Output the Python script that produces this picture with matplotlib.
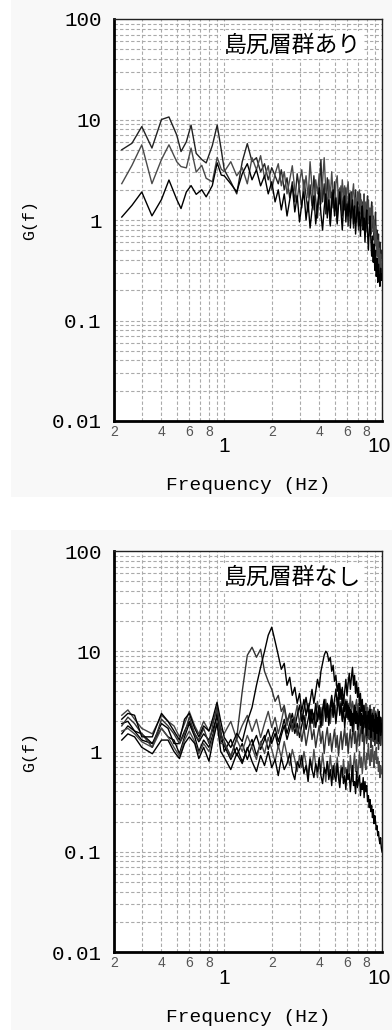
import numpy as np
import matplotlib
matplotlib.use("Agg")
import matplotlib.pyplot as plt
from matplotlib.patches import Rectangle
from matplotlib.transforms import blended_transform_factory, offset_copy
from matplotlib.ticker import FixedLocator, FixedFormatter, NullFormatter, LogLocator

# ---------------------------------------------------------------- data
# Frequency axis (Hz) and G(f) axis
x_major = [1, 10]
x_major_labels = ["1", "10"]
x_minor = [0.2, 0.3, 0.4, 0.5, 0.6, 0.7, 0.8, 0.9, 2, 3, 4, 5, 6, 7, 8, 9]
x_minor_labels = ["2", "", "4", "", "6", "", "8", "", "2", "", "4", "", "6", "", "8", ""]
y_ticks = [0.01, 0.1, 1, 10, 100]
y_tick_labels = ["0.01", "0.1", "1", "10", "100"]

titles = ["島尻層群あり", "島尻層群なし"]

# low-frequency part (coarse spectral estimate), G(f)
f_low_top = [0.224, 0.26, 0.30, 0.348, 0.40, 0.446, 0.50, 0.532, 0.575, 0.616,
             0.664, 0.72, 0.768, 0.84, 0.902, 0.957]
top_low_a = [5.0, 5.8, 8.5, 5.2, 10.0, 10.6, 7.0, 4.8, 6.0, 8.8, 4.6, 4.0, 3.7, 5.5, 8.8, 5.0]
top_low_b = [2.3, 3.5, 5.6, 2.3, 4.0, 5.6, 3.8, 3.4, 3.3, 5.2, 3.0, 3.5, 2.6, 2.4, 4.2, 3.2]
top_low_c = [1.07, 1.4, 1.9, 1.1, 1.6, 2.5, 1.6, 1.3, 1.9, 2.2, 1.8, 2.0, 1.7, 2.2, 3.7, 2.8]

# 1-10 Hz part, 0.1 Hz step, values are 100*log10 G(f)
top_high_a = [50, 38, 26, 58, 76, 58, 62, 48, 56, 40, 52, 44, 36, 50, 30, 42, 22, 38, 18, 46,
              30, 12, 40, 24, 8, 35, 14, 44, 20, 2, 30, 60, 18, 36, 6, 42, 24, -4, 28, 12,
              38, 20, -2, 30, 16, 34, 4, 26, 10, 32, 18, -6, 22, 8, 28, 12, -8, 20, 30, 4,
              16, -10, 14, 26, 2, 18, -4, 22, 6, -12, 14, 24, 0, 10, -16, 6, 18, -8, 4, -20,
              -4, 8, -26, -10, -30, -14, -40, -22, -46, -30, -38]
top_high_b = [48, 58, 44, 52, 36, 62, 50, 64, 42, 54, 30, 46, 56, 34, 48, 26, 40, 54, 30, 20,
              38, 50, 28, 44, 22, 58, 32, 10, 40, 26, 46, 16, 38, 62, 30, 12, 40, 22, 48, 26,
              8, 36, 44, 18, 32, 10, 40, 24, 34, 6, 30, 38, 14, 28, 2, 26, 36, 12, 22, -2,
              28, 16, 30, 6, 20, -6, 14, 26, 0, 18, -8, 10, 20, -4, 12, -14, 2, 14, -12, 0,
              -24, -6, -18, -36, -20, -48, -28, -52, -34, -58, -44]
top_high_c = [44, 36, 28, 46, 56, 40, 50, 34, 44, 26, 38, 18, 30, 10, 26, 4, 20, 34, 8, 24,
              -2, 16, 28, 0, 18, -8, 10, 24, -4, 14, 32, 6, -10, 12, 26, 2, 20, -6, 16, 30,
              4, 22, -4, 14, 28, 8, -10, 12, 24, -2, 16, 4, 26, -8, 10, 20, -4, 14, -14, 6,
              18, -6, 8, -16, 4, 14, -10, 2, -22, -2, 10, -14, -30, -8, 4, -20, -36, -16, -42, -24,
              -50, -30, -56, -38, -62, -44, -58, -66, -48, -60, -54]

f_low_bot = [0.224, 0.245, 0.27, 0.30, 0.35, 0.40, 0.44, 0.48, 0.52, 0.56, 0.60,
             0.65, 0.69, 0.74, 0.80, 0.85, 0.90, 0.95]
bot_low_1 = [1.8, 2.2, 1.9, 1.5, 1.1, 2.1, 1.8, 1.5, 1.2, 1.5, 2.2, 1.5, 1.3, 1.7, 1.2, 1.9, 2.8, 1.5]
bot_low_2 = [2.1, 2.4, 2.3, 1.4, 1.4, 2.4, 2.0, 1.6, 1.3, 2.1, 2.4, 1.7, 1.4, 1.8, 1.6, 2.2, 3.1, 2.0]
bot_low_3 = [1.5, 1.8, 1.6, 1.3, 1.2, 1.7, 1.4, 1.3, 0.95, 1.4, 1.9, 1.4, 1.0, 1.3, 1.1, 1.5, 2.4, 1.3]
bot_low_4 = [1.9, 2.0, 1.6, 1.5, 1.2, 1.9, 1.7, 1.2, 1.2, 1.6, 2.0, 1.5, 1.25, 1.5, 1.3, 1.7, 2.2, 1.6]
bot_low_5 = [1.3, 1.5, 1.4, 1.1, 0.95, 1.3, 1.3, 1.0, 0.85, 1.2, 1.4, 1.2, 0.85, 1.1, 0.8, 1.3, 1.9, 1.0]
bot_low_6 = [2.3, 2.6, 2.1, 1.7, 1.5, 2.3, 2.0, 1.8, 1.4, 1.9, 2.5, 1.8, 1.5, 2.0, 1.6, 2.0, 2.6, 1.7]
bot_low_7 = [1.6, 1.7, 1.5, 1.25, 1.1, 1.7, 1.4, 1.1, 0.9, 1.3, 1.6, 1.25, 0.95, 1.2, 1.0, 1.4, 2.0, 1.2]

bot_high_1 = [10, -6, 14, 60, 96, 104, 94, 102, 80, 70, 62, 50, 56, 40, 46, 30, 38, 22, 34, 16,
              28, 10, 24, 6, 18, 30, 12, 22, 4, 16, 26, 8, 20, -2, 14, 24, 6, 18, 0, 12,
              22, 4, 16, -4, 10, 20, 2, 14, 24, 6, 18, -2, 12, 22, 4, 16, 26, 8, 20, 0,
              14, 24, 6, 18, 28, 10, 22, 2, 16, 26, 8, 20, 30, 12, 24, 4, 18, 28, 10, 22,
              6, 18, 26, 8, 20, 2, 16, 24, 6, 14, 20]
bot_high_2 = [14, 4, 18, 10, 30, 44, 66, 84, 100, 116, 124, 110, 96, 82, 88, 66, 74, 56, 64, 48,
              58, 40, 52, 36, 46, 28, 42, 32, 48, 30, 40, 24, 38, 50, 30, 44, 26, 40, 52, 34,
              46, 28, 42, 54, 36, 48, 30, 44, 24, 38, 50, 32, 44, 26, 40, 20, 36, 46, 28, 40,
              22, 34, 44, 26, 38, 18, 32, 42, 24, 36, 16, 30, 40, 22, 34, 14, 28, 38, 20, 32,
              12, 26, 36, 18, 30, 10, 24, 34, 16, 26, 20]
bot_high_3 = [6, -8, 4, -10, 2, 12, -4, 8, 16, 2, 14, 24, 10, 20, 32, 18, 28, 38, 24, 36,
              46, 30, 42, 54, 40, 50, 62, 48, 60, 72, 64, 80, 88, 96, 100, 98, 90, 94, 80, 86,
              70, 76, 60, 68, 52, 62, 46, 56, 40, 50, 34, 46, 30, 42, 26, 38, 22, 34, 44, 28,
              38, 20, 32, 42, 26, 36, 18, 30, 40, 22, 34, 14, 28, 38, 20, 32, 12, 26, 36, 18,
              30, 10, 24, 34, 16, 28, 8, 22, 32, 14, 24]
bot_high_4 = [0, 12, -4, 8, -8, 6, 16, 2, 12, 22, 8, 18, 4, 16, 26, 12, 22, 32, 18, 28,
              14, 26, 36, 22, 32, 42, 28, 38, 24, 36, 46, 32, 42, 52, 38, 48, 34, 46, 56, 42,
              52, 62, 46, 58, 68, 52, 64, 48, 60, 72, 56, 68, 78, 62, 74, 84, 66, 76, 58, 70,
              54, 64, 46, 58, 40, 52, 34, 46, 28, 40, 22, 36, 16, 30, 42, 24, 36, 18, 30, 12,
              26, 38, 20, 32, 14, 28, 40, 22, 34, 18, 28]
bot_high_5 = [-6, -18, -2, -12, 4, -10, -20, -4, -14, 0, -16, -8, -24, -6, -18, -12, -2, -20, -28, -10,
              -16, -4, -22, -14, -30, -8, -18, -26, -12, -20, -6, -24, -32, -16, -22, -10, -28, -18, -34, -14,
              -24, -30, -12, -26, -36, -20, -16, -32, -24, -38, -18, -28, -22, -40, -26, -14, -34, -30, -42, -20,
              -36, -28, -24, -44, -32, -38, -26, -46, -30, -40, -34, -50, -44, -56, -48, -60, -54, -66, -58, -72,
              -64, -70, -78, -74, -84, -80, -88, -92, -86, -96, -100]
bot_high_6 = [18, 30, 12, 26, 36, 20, 32, 14, 28, 40, 24, 34, 18, 30, 44, 26, 38, 20, 34, 46,
              28, 40, 22, 36, 48, 30, 42, 24, 38, 50, 32, 44, 26, 40, 52, 34, 46, 28, 42, 36,
              48, 30, 44, 54, 38, 50, 32, 46, 40, 52, 34, 48, 42, 56, 36, 50, 44, 30, 46, 52,
              38, 48, 34, 44, 50, 40, 46, 32, 42, 48, 36, 44, 30, 40, 46, 34, 42, 28, 38, 44,
              32, 40, 26, 36, 42, 30, 38, 24, 34, 28, 32]
bot_high_7 = [8, -4, 12, 0, 16, 4, -8, 10, -2, 14, 2, -10, 6, -6, 10, -4, -14, 2, -8, -20,
              -4, -16, 0, -12, -24, -6, -18, 2, -14, -26, -8, -20, -2, -16, -30, -10, -22, -4, -18, -28,
              -12, -24, -6, -20, -32, -14, -26, -8, -22, -16, -28, -10, -24, -4, -18, -30, -12, -2, -20, -8,
              -26, -14, 0, -16, -6, -22, -10, 4, -12, -18, -2, -8, 8, -6, -14, 2, -10, 6, -4, -16,
              0, -8, 4, -12, -6, -20, -10, -26, -14, -22, -18]

top_curves = [(top_low_a, top_high_a, "#222222"),
              (top_low_b, top_high_b, "#4a4a4a"),
              (top_low_c, top_high_c, "#000000")]
bot_curves = [(bot_low_6, bot_high_6, "#444444"),
              (bot_low_4, bot_high_4, "#000000"),
              (bot_low_3, bot_high_3, "#000000"),
              (bot_low_7, bot_high_7, "#4a4a4a"),
              (bot_low_5, bot_high_5, "#000000"),
              (bot_low_1, bot_high_1, "#333333"),
              (bot_low_2, bot_high_2, "#000000")]

# ---------------------------------------------------------------- figure
W, H = 392, 1030
fig = plt.figure(figsize=(W / 100, H / 100), dpi=100, facecolor="white")

# light panel backgrounds
fig.add_artist(Rectangle((11 / W, 1 - 497 / H), (W - 11) / W, 497 / H,
                         transform=fig.transFigure, facecolor="#f8f8f8",
                         edgecolor="none", zorder=-10))
fig.add_artist(Rectangle((11 / W, 0), (W - 11) / W, 500 / H,
                         transform=fig.transFigure, facecolor="#f8f8f8",
                         edgecolor="none", zorder=-10))

mono = ["Liberation Mono", "DejaVu Sans Mono"]
sans = ["Liberation Sans", "DejaVu Sans"]
cjk = ["Noto Sans CJK JP", "DejaVu Sans"]

ax_left, ax_right = 114, 382
panels = [(19, 421, f_low_top, top_curves, titles[0]),
          (551, 952, f_low_bot, bot_curves, titles[1])]

for top_px, bot_px, f_low, curves, title in panels:
    ax_h = bot_px - top_px
    ax = fig.add_axes([ax_left / W, 1 - bot_px / H,
                       (ax_right - ax_left) / W, ax_h / H])
    ax.set_facecolor("white")
    ax.set_xscale("log")
    ax.set_yscale("log")
    ax.set_xlim(0.2, 10)
    ax.set_ylim(0.01, 100)

    for low, high, col in curves:
        f_high = np.linspace(1.0, 10.0, len(high))
        f = np.concatenate([f_low, f_high])
        g = np.concatenate([low, 10.0 ** (np.asarray(high) / 100.0)])
        ax.plot(f, g, color=col, lw=1.0, zorder=3)

    # ticks and labels
    ax.xaxis.set_major_locator(FixedLocator(x_major))
    ax.xaxis.set_major_formatter(NullFormatter())
    ax.xaxis.set_minor_locator(FixedLocator(x_minor))
    ax.xaxis.set_minor_formatter(FixedFormatter(x_minor_labels))
    ax.yaxis.set_major_locator(FixedLocator(y_ticks))
    ax.yaxis.set_major_formatter(FixedFormatter(y_tick_labels))
    ax.yaxis.set_minor_locator(LogLocator(base=10, subs=np.arange(2, 10)))
    ax.yaxis.set_minor_formatter(NullFormatter())
    ax.tick_params(which="both", length=0)
    ax.tick_params(axis="x", which="minor", pad=3, labelsize=10, labelcolor="#555555")
    ax.tick_params(axis="y", which="major", pad=9, labelsize=15)
    for lab in ax.get_xticklabels(which="minor"):
        lab.set_fontfamily(sans)
    for lab in ax.get_yticklabels():
        lab.set_fontfamily(mono)

    # decade labels below the axis, drawn as text
    base = blended_transform_factory(ax.transData, ax.transAxes)
    for v, lab in zip(x_major, x_major_labels):
        dx = -3 if v == x_major[-1] else 0
        tr = offset_copy(base, fig=fig, x=dx, y=-26, units="dots")
        ax.text(v, 0, lab, transform=tr, ha="center", va="center",
                fontsize=15, family=sans, clip_on=False)

    ax.grid(which="both", color="#aaaaaa", lw=0.8, ls=(0, (3, 2)), zorder=1)

    for side in ("left", "bottom"):
        ax.spines[side].set_linewidth(2.0)
        ax.spines[side].set_color("black")
    for side in ("top", "right"):
        ax.spines[side].set_linewidth(1.0)
        ax.spines[side].set_color("#222222")

    ax.set_xlabel("Frequency (Hz)", fontsize=14, family=mono, va="center")
    ax.xaxis.set_label_coords(0.5, -65 / ax_h)
    ax.set_ylabel("G(f)", fontsize=12, family=mono, va="center")
    ax.yaxis.set_label_coords((30 - ax_left) / (ax_right - ax_left), 0.5)

    ax.text(0.665, 0.935, title, transform=ax.transAxes, ha="center", va="center",
            fontsize=16.5, family=cjk, zorder=5,
            bbox=dict(boxstyle="square,pad=0.1", facecolor="white", edgecolor="none"))

fig.savefig("out.png", dpi=100, facecolor="white")
